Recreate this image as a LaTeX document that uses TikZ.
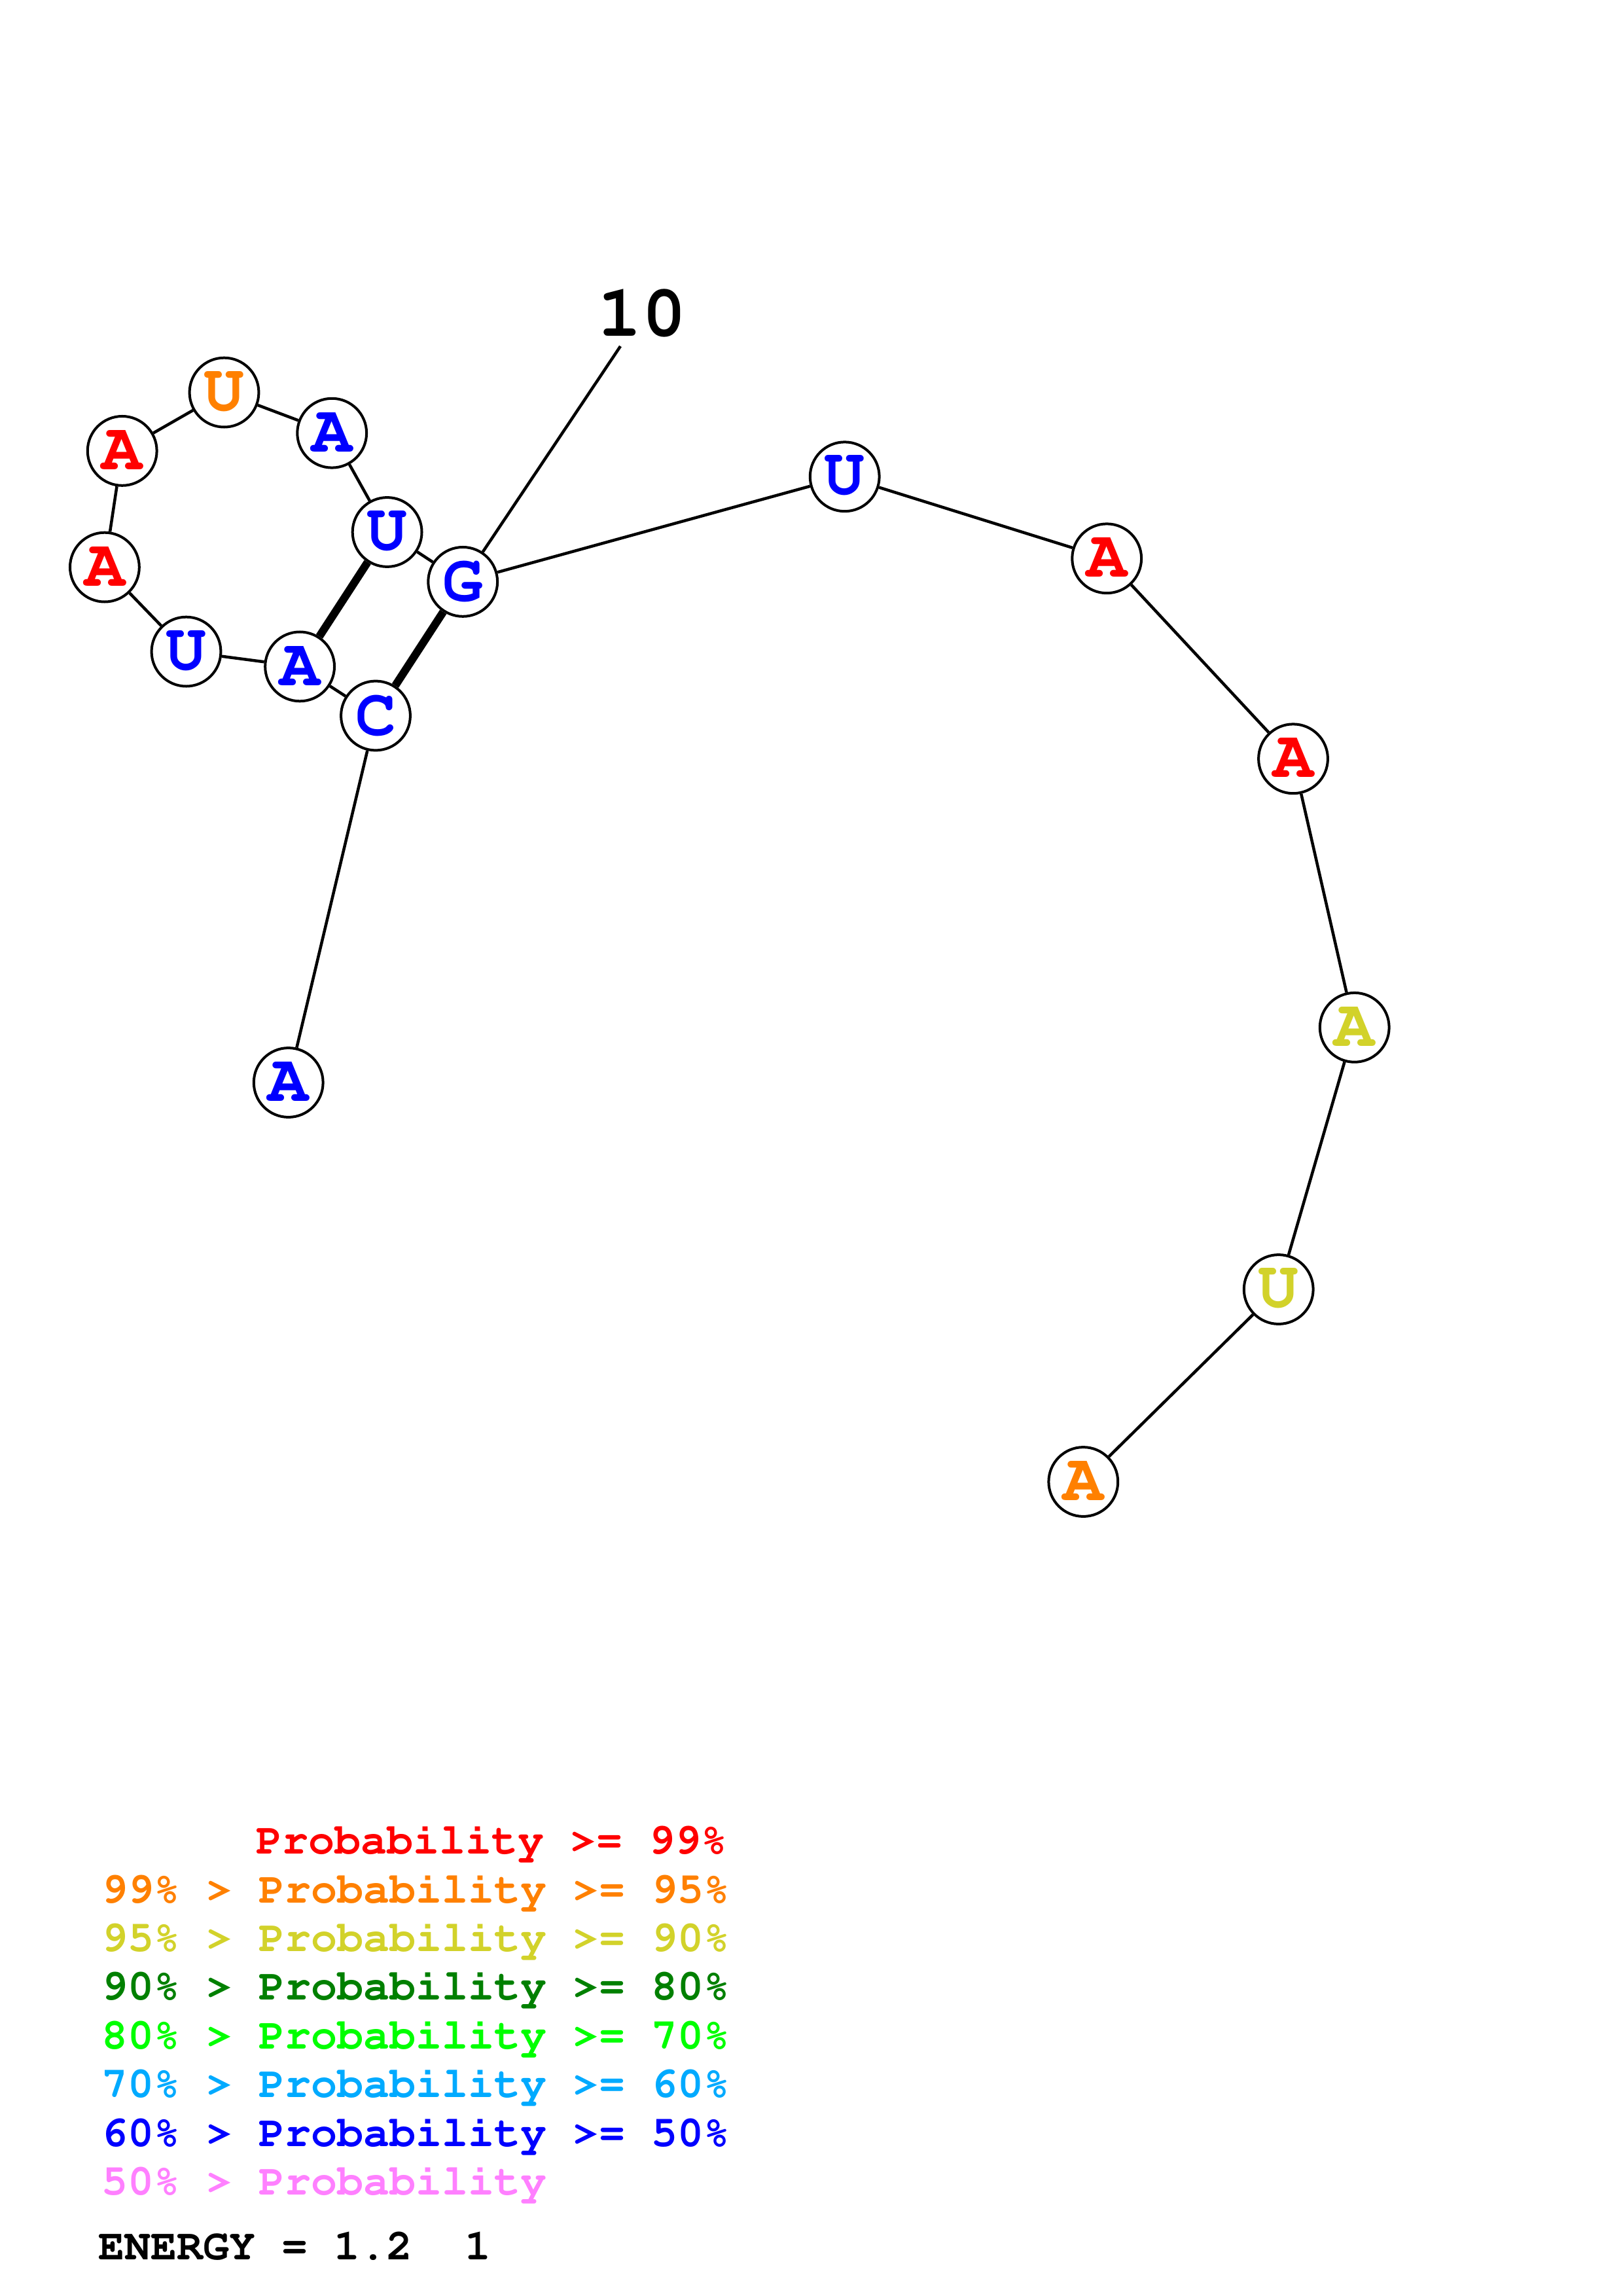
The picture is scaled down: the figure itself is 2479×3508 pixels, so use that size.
\documentclass[tikz,border=0pt]{standalone}
\usepackage[T1,TU]{fontenc}
\newcommand\courb[1]{\fontencoding{T1}\fontfamily{pcr}\fontseries{b}\fontshape{n}\fontsize{#1}{#1}\selectfont}
\definecolor{pred}{RGB}{255,0,0}
\definecolor{porange}{RGB}{255,128,0}
\definecolor{pyellow}{RGB}{210,210,42}
\definecolor{pdgreen}{RGB}{0,128,0}
\definecolor{pgreen}{RGB}{0,255,0}
\definecolor{pcyan}{RGB}{0,170,255}
\definecolor{pblue}{RGB}{0,0,255}
\definecolor{ppink}{RGB}{255,128,255}
\tikzset{
  base/.style={circle, draw=black, line width=0.96pt, fill=white, minimum size=25.4pt, inner sep=0pt, font=\courb{24.7}},
  backbone/.style={draw=black, line width=1.08pt},
  pairline/.style={draw=black, line width=2.9pt},
  legend/.style={anchor=base west, inner sep=0pt, font=\courb{16}},
  numlabel/.style={inner sep=0pt, font=\courb{27}}
}
\begin{document}
\begin{tikzpicture}[x=0.24pt, y=-0.24pt]
\useasboundingbox (0,0) rectangle (2479,3508);
\fill[white] (0,0) rectangle (2479,3508);
% nucleotides
\node[base, text=pblue]   (n1)  at (440.7,1654)   {A};
\node[base, text=pblue]   (n2)  at (574,1093.5)   {C};
\node[base, text=pblue]   (n3)  at (458.1,1018.4) {A};
\node[base, text=pblue]   (n4)  at (284.5,995.6)  {U};
\node[base, text=pred]    (n5)  at (159.9,866.6)  {A};
\node[base, text=pred]    (n6)  at (186.7,688.9)  {A};
\node[base, text=porange] (n7)  at (342.5,599.6)  {U};
\node[base, text=pblue]   (n8)  at (507.2,661.7)  {A};
\node[base, text=pblue]   (n9)  at (591.6,813)    {U};
\node[base, text=pblue]   (n10) at (707.2,888.9)  {G};
\node[base, text=pblue]   (n11) at (1290.7,728.3) {U};
\node[base, text=pred]    (n12) at (1691.2,853.3) {A};
\node[base, text=pred]    (n13) at (1976,1159.3)  {A};
\node[base, text=pyellow] (n14) at (2069.7,1569.8){A};
\node[base, text=pyellow] (n15) at (1953.7,1970)  {U};
\node[base, text=porange] (n16) at (1655.3,2264)  {A};
% backbone
\draw[backbone] (n1) -- (n2);
\draw[backbone] (n2) -- (n3);
\draw[backbone] (n3) -- (n4);
\draw[backbone] (n4) -- (n5);
\draw[backbone] (n5) -- (n6);
\draw[backbone] (n6) -- (n7);
\draw[backbone] (n7) -- (n8);
\draw[backbone] (n8) -- (n9);
\draw[backbone] (n9) -- (n10);
\draw[backbone] (n10) -- (n11);
\draw[backbone] (n11) -- (n12);
\draw[backbone] (n12) -- (n13);
\draw[backbone] (n13) -- (n14);
\draw[backbone] (n14) -- (n15);
\draw[backbone] (n15) -- (n16);
% base pairs
\draw[pairline] (n2) -- (n10);
\draw[pairline] (n3) -- (n9);
% numbering
\node[numlabel] (lab10) at (981,479) {10};
\coordinate (tick10) at (948,529);
\draw[backbone] (n10) -- (tick10);
% legend
\node[legend, text=pred]    (l1) at (391,2832.6) {Probability >= 99\%};
\node[legend, text=porange] (l2) at (155,2907.0) {99\% > Probability >= 95\%};
\node[legend, text=pyellow] (l3) at (155,2981.4) {95\% > Probability >= 90\%};
\node[legend, text=pdgreen] (l4) at (155,3055.8) {90\% > Probability >= 80\%};
\node[legend, text=pgreen]  (l5) at (155,3130.2) {80\% > Probability >= 70\%};
\node[legend, text=pcyan]   (l6) at (155,3204.6) {70\% > Probability >= 60\%};
\node[legend, text=pblue]   (l7) at (155,3279.0) {60\% > Probability >= 50\%};
\node[legend, text=ppink]   (l8) at (155,3353.4) {50\% > Probability};
\node[legend, text=black]   (en) at (150,3452.5) {ENERGY = 1.2\ \ 1};
\end{tikzpicture}
\end{document}
